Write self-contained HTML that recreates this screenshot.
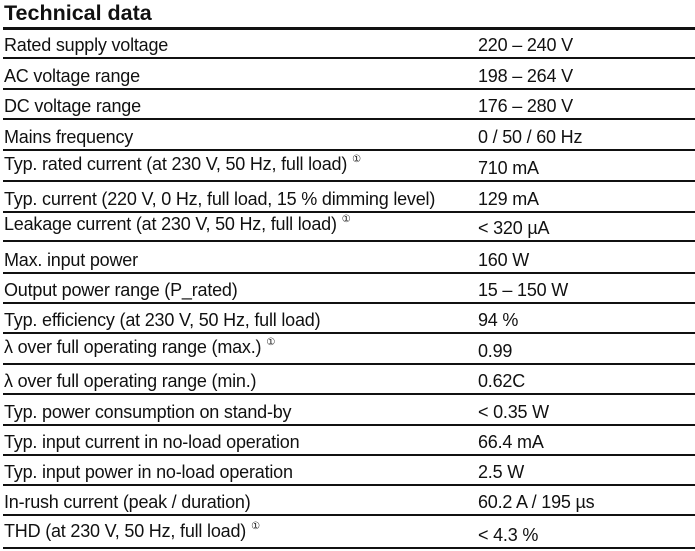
<!DOCTYPE html>
<html><head><meta charset="utf-8"><style>
body{margin:0;width:695px;height:551px;background:#fff;position:relative;overflow:hidden;font-family:"Liberation Sans",sans-serif;color:#111}
.t{position:absolute;left:4px;top:1px;font-weight:bold;font-size:21.5px}
.ln{position:absolute;left:3px;right:0;height:1.5px;background:#111}
.c{position:absolute;font-size:18px;white-space:nowrap;line-height:20px;letter-spacing:-0.2px}
sup{font-size:10px;line-height:0;position:relative;top:-8px;vertical-align:baseline;margin-left:5px}
</style></head><body>
<div class="t">Technical data</div>
<div id="tbl"></div>
<script>
const labels=["Rated supply voltage","AC voltage range","DC voltage range","Mains frequency","Typ. rated current (at 230 V, 50 Hz, full load)","Typ. current (220 V, 0 Hz, full load, 15 % dimming level)","Leakage current (at 230 V, 50 Hz, full load)","Max. input power","Output power range (P_rated)","Typ. efficiency (at 230 V, 50 Hz, full load)","λ over full operating range (max.)","λ over full operating range (min.)","Typ. power consumption on stand-by","Typ. input current in no-load operation","Typ. input power in no-load operation","In-rush current (peak / duration)","THD (at 230 V, 50 Hz, full load)"];
const values=["220 – 240 V","198 – 264 V","176 – 280 V","0 / 50 / 60 Hz","710 mA","129 mA","< 320 µA","160 W","15 – 150 W","94 %","0.99","0.62C","< 0.35 W","66.4 mA","2.5 W","60.2 A / 195 µs","< 4.3 %"];
const notes=[4,6,10,16];
const lines=[28,58,89,119,150,181,212,241,273,303,333,364,394,425,455,485,515,548];
const tbl=document.getElementById('tbl');
lines.forEach((y,i)=>{const d=document.createElement('div');d.className='ln';d.style.top=(y-1)+'px';if(i===0){d.style.height='2.5px';d.style.top='27px';}


tbl.appendChild(d);});
labels.forEach((l,i)=>{const top=lines[i+1]-23;
const a=document.createElement('div');a.className='c';a.style.left='4px';a.style.top=(notes.includes(i)?top-4:top)+'px';a.textContent=l;
if(notes.includes(i)){const s=document.createElement('sup');s.textContent='①';a.appendChild(s);}


tbl.appendChild(a);
const b=document.createElement('div');b.className='c';b.style.left='478px';b.style.top=top+'px';b.textContent=values[i];


tbl.appendChild(b);});
</script>
</body></html>
